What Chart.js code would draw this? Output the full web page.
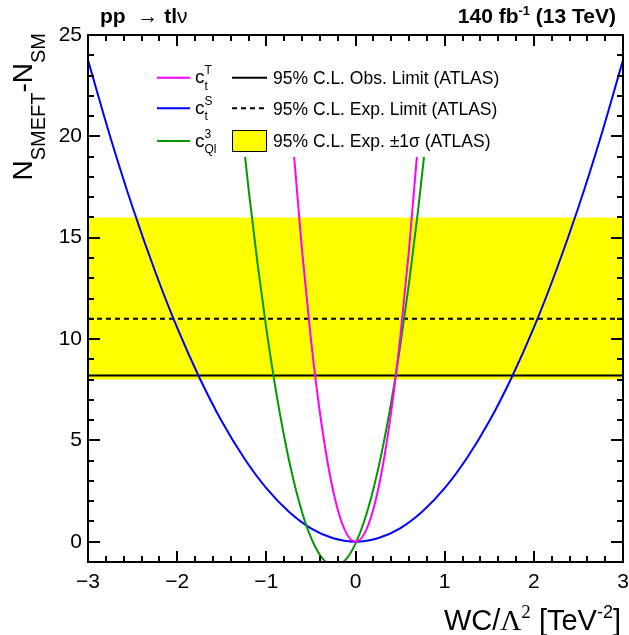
<!DOCTYPE html>
<html>
<head>
<meta charset="utf-8">
<script src="https://cdn.jsdelivr.net/npm/chart.js@4/dist/chart.umd.min.js"></script>
<style>
  html, body { margin: 0; padding: 0; background: #fff; }
  canvas { display: block; }
</style>
</head>
<body>
<canvas id="chart" width="629" height="635"></canvas>
<script>
// values
const wcS = [-3, -2.75, -2.5, -2.25, -2, -1.75, -1.5, -1.25, -1, -0.75, -0.5, -0.25, 0,
             0.25, 0.5, 0.75, 1, 1.25, 1.5, 1.75, 2, 2.25, 2.5, 2.75, 3];
const ctS = [23.76, 19.97, 16.5, 13.37, 10.56, 8.09, 5.94, 4.13, 2.64, 1.49, 0.66, 0.17, 0,
             0.17, 0.66, 1.49, 2.64, 4.13, 5.94, 8.09, 10.56, 13.37, 16.5, 19.97, 23.76];

const wcT = [-0.8, -0.7, -0.6, -0.5, -0.4, -0.3, -0.2, -0.1, 0, 0.1, 0.2, 0.3, 0.4, 0.5, 0.6, 0.7, 0.8];
const ctT = [25.6, 19.6, 14.4, 10, 6.4, 3.6, 1.6, 0.4, 0, 0.4, 1.6, 3.6, 6.4, 10, 14.4, 19.6, 25.6];

const wcQl = [-1.4, -1.3, -1.2, -1.1, -1, -0.9, -0.8, -0.7, -0.6, -0.5, -0.4, -0.3, -0.235,
              -0.2, -0.1, 0, 0.1, 0.2, 0.3, 0.4, 0.5, 0.6, 0.7, 0.8, 0.9];
const cQl3 = [25.95, 21.49, 17.43, 13.77, 10.51, 7.65, 5.19, 3.13, 1.47, 0.21, -0.65, -1.11, -1.19,
              -1.17, -0.83, -0.09, 1.05, 2.59, 4.53, 6.87, 9.61, 12.75, 16.29, 20.23, 24.57];

const obsLimit = 8.2;
const expLimit = 11;
const expBand = [8, 16];

const xTicks = [-3, -2, -1, 0, 1, 2, 3];
const yTicks = [0, 5, 10, 15, 20, 25];

const SANS = '"Liberation Sans", Arial, sans-serif';
const SERIF = '"Liberation Serif", serif';

function pts(xs, ys) { return xs.map((x, i) => ({ x: x, y: ys[i] })); }
function flat(v) { return [{ x: -3, y: v }, { x: 3, y: v }]; }

function font(p) { return (p.weight || 'normal') + ' ' + p.size + 'px ' + (p.family || SANS); }
function partWidth(ctx, p) {
  ctx.font = font(p);
  if (p.stack) return Math.max(ctx.measureText(p.sub || '').width, ctx.measureText(p.sup || '').width);
  return ctx.measureText(p.t).width;
}
function drawRich(ctx, parts, x, y, align) {
  const w = parts.reduce((s, p) => s + partWidth(ctx, p), 0);
  let cx = align === 'right' ? x - w : (align === 'center' ? x - w / 2 : x);
  ctx.textAlign = 'left';
  ctx.textBaseline = 'alphabetic';
  parts.forEach(p => {
    const pw = partWidth(ctx, p);
    ctx.font = font(p);
    if (p.stack) {
      if (p.sub) ctx.fillText(p.sub, cx, y + p.subDy);
      if (p.sup) ctx.fillText(p.sup, cx, y + p.supDy);
    } else {
      ctx.fillText(p.t, cx, y + (p.dy || 0));
    }
    cx += pw;
  });
}

const rootStyle = {
  id: 'rootStyle',
  afterDraw(chart) {
    const ctx = chart.ctx;
    const a = chart.chartArea;
    const xs = chart.scales.x, ys = chart.scales.y;
    ctx.save();

    // legend box (white, hides the curves behind it)
    ctx.fillStyle = '#fff';
    ctx.fillRect(140, a.top, 370, 157 - a.top);
    const rows = [77.7, 108.3, 141];
    const colors = ['#ff00ff', '#0000ff', '#009900'];
    const subs = [['t', 'T'], ['t', 'S'], ['Ql', '3']];
    ctx.lineWidth = 2;
    rows.forEach((ry, i) => {
      ctx.strokeStyle = colors[i];
      ctx.beginPath(); ctx.moveTo(157, ry); ctx.lineTo(190, ry); ctx.stroke();
      ctx.fillStyle = '#000';
      drawRich(ctx, [{ t: 'c', size: 19 }, { stack: true, sub: subs[i][0], sup: subs[i][1], size: 12, subDy: 6.5, supDy: -9 }], 195, ry + 5.5, 'left');
    });
    ctx.strokeStyle = '#000';
    ctx.beginPath(); ctx.moveTo(232, rows[0]); ctx.lineTo(267, rows[0]); ctx.stroke();
    ctx.setLineDash([5, 4]);
    ctx.beginPath(); ctx.moveTo(232, rows[1]); ctx.lineTo(267, rows[1]); ctx.stroke();
    ctx.setLineDash([]);
    ctx.fillStyle = '#ffff00';
    ctx.fillRect(232, 130, 35, 22);
    ctx.lineWidth = 1;
    ctx.strokeRect(232.5, 130.5, 34, 21);
    ctx.fillStyle = '#000';
    ctx.font = '17.5px ' + SANS;
    ctx.textBaseline = 'alphabetic';
    ctx.textAlign = 'left';
    ctx.fillText('95% C.L. Obs. Limit (ATLAS)', 273, rows[0] + 6.3);
    ctx.fillText('95% C.L. Exp. Limit (ATLAS)', 273, rows[1] + 6.3);
    ctx.fillText('95% C.L. Exp. \u00b11\u03c3 (ATLAS)', 273, rows[2] + 6.3);

    // frame
    ctx.strokeStyle = '#000';
    ctx.lineWidth = 2;
    ctx.strokeRect(a.left, a.top, a.right - a.left, a.bottom - a.top);

    // x ticks (bottom and top)
    ctx.beginPath();
    for (let k = 0; k <= 30; k++) {
      const v = -3 + k * 0.2;
      const px = Math.round(xs.getPixelForValue(v));
      const len = k % 5 === 0 ? 11 : 6;
      ctx.moveTo(px, a.bottom); ctx.lineTo(px, a.bottom - len);
      ctx.moveTo(px, a.top); ctx.lineTo(px, a.top + len);
    }
    // y ticks (left and right)
    for (let v = 0; v <= 25; v++) {
      const py = Math.round(ys.getPixelForValue(v));
      const len = v % 5 === 0 ? 12 : 6;
      ctx.moveTo(a.left, py); ctx.lineTo(a.left + len, py);
      ctx.moveTo(a.right, py); ctx.lineTo(a.right - len, py);
    }
    ctx.stroke();

    // tick labels
    ctx.fillStyle = '#000';
    ctx.font = '21px ' + SANS;
    ctx.textAlign = 'center';
    ctx.textBaseline = 'middle';
    xTicks.forEach(v => {
      ctx.fillText(String(v).replace('-', '\u2212'), xs.getPixelForValue(v), 582);
    });
    ctx.textAlign = 'right';
    yTicks.forEach(v => {
      ctx.fillText(String(v), 82, ys.getPixelForValue(v));
    });

    // x title
    drawRich(ctx, [
      { t: 'WC/', size: 29 },
      { t: '\u039b', size: 29, family: SERIF },
      { t: '2', size: 19, dy: -12, family: SERIF },
      { t: ' [TeV', size: 29 },
      { t: '-2', size: 18, dy: -12 },
      { t: ']', size: 29 }
    ], 621, 630, 'right');

    // y title
    ctx.save();
    ctx.translate(32, 0);
    ctx.rotate(-Math.PI / 2);
    drawRich(ctx, [
      { t: 'N', size: 28 },
      { t: 'SMEFT', size: 20, dy: 13 },
      { t: '-N', size: 28 },
      { t: 'SM', size: 20, dy: 13 }
    ], -33, 0, 'right');
    ctx.restore();

    // header texts
    drawRich(ctx, [
      { t: 'pp', size: 21, weight: 'bold' },
      { t: '  \u2192 ', size: 21 },
      { t: 'tl', size: 21, weight: 'bold' },
      { t: '\u03bd', size: 21 }
    ], 100, 23, 'left');
    drawRich(ctx, [
      { t: '140 fb', size: 21, weight: 'bold' },
      { t: '-1', size: 13, dy: -8, weight: 'bold' },
      { t: ' (13 TeV)', size: 21, weight: 'bold' }
    ], 616, 23, 'right');

    ctx.restore();
  }
};

new Chart(document.getElementById('chart').getContext('2d'), {
  type: 'line',
  data: {
    datasets: [
      { label: 'c_t^T', data: pts(wcT, ctT), borderColor: '#ff00ff', borderWidth: 2, order: 1, cubicInterpolationMode: 'monotone' },
      { label: 'c_Ql^3', data: pts(wcQl, cQl3), borderColor: '#009900', borderWidth: 2, order: 2, cubicInterpolationMode: 'monotone' },
      { label: 'c_t^S', data: pts(wcS, ctS), borderColor: '#0000ff', borderWidth: 2, order: 3, cubicInterpolationMode: 'monotone' },
      { label: 'Obs', data: flat(obsLimit), borderColor: '#000', borderWidth: 2, order: 4 },
      { label: 'Exp', data: flat(expLimit), borderColor: '#000', borderWidth: 2, borderDash: [5, 4], order: 5 },
      { label: 'band lo', data: flat(expBand[0]), borderWidth: 0, borderColor: 'rgba(0,0,0,0)', order: 7 },
      { label: 'band hi', data: flat(expBand[1]), borderWidth: 0, borderColor: 'rgba(0,0,0,0)', backgroundColor: '#ffff00', fill: '-1', order: 6 }
    ]
  },
  options: {
    responsive: false,
    animation: false,
    devicePixelRatio: 1,
    layout: { padding: { left: 88, right: 6, top: 35, bottom: 73 } },
    elements: { point: { radius: 0 } },
    plugins: { legend: { display: false }, tooltip: { enabled: false } },
    scales: {
      x: { type: 'linear', min: -3, max: 3, display: false },
      y: { type: 'linear', min: -1, max: 25, display: false }
    }
  },
  plugins: [rootStyle]
});
</script>
</body>
</html>
